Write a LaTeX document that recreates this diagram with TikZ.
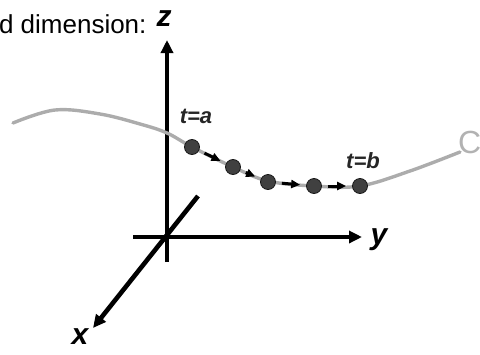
\documentclass[tikz,border=0pt]{standalone}
\usepackage{fontspec}
\setmainfont{Liberation Sans}
\usepackage{tikz}
\usetikzlibrary{arrows.meta}

\begin{document}
\begin{tikzpicture}[
        x=1pt, y=-1pt,
        axis/.style={line width=4.6pt, -{Triangle[length=13pt,width=12pt]}},
        axlabel/.style={font=\fontsize{30}{30}\selectfont\bfseries\itshape},
        curvelbl/.style={font=\fontsize{22}{22}\selectfont\bfseries\itshape, text=black!85},
        pt/.style={circle, fill=black!75, draw=black!90, line width=0.8pt,
                   inner sep=0pt, minimum size=15pt},
        seg/.style={line width=3pt, -{Triangle[length=9pt,width=8pt]},
                    shorten >=6pt, shorten <=6pt}
      ]
        \useasboundingbox (0,0) rectangle (480,354);

        \node[anchor=base east, font=\fontsize{26}{26}\selectfont] (title) at (150,33) {d dimension:};

        % axes
        \coordinate (zbot) at (167,262);
        \coordinate (ztop) at (167,40);
        \coordinate (yleft) at (133,237);
        \coordinate (yright) at (362,237);
        \coordinate (xback) at (198,196);
        \coordinate (xfront) at (93,328);
        \draw[axis] (zbot) -- (ztop);
        \draw[axis] (yleft) -- (yright);
        \draw[axis] (xback) -- (xfront);
        \node[axlabel] (zlbl) at (164,19) {z};
        \node[axlabel] (ylbl) at (379,240) {y};
        \node[axlabel] (xlbl) at (80,337) {x};

        % the curve C
        \draw[gray!65, line width=3.4pt, line cap=round] plot[smooth, tension=0.6] coordinates
            {(13,123) (55,110) (100,114) (140,124) (167,133) (192,147) (233,167)
             (268,181) (314,186) (360,186) (410,171) (460,152)};
        \node[text=gray!60, font=\fontsize{32}{32}\selectfont, inner sep=0pt,
              anchor=west] (clbl) at (458,142) {C};

        \node[pt] (p1) at (192,147) {};
        \node[pt] (p2) at (233,167) {};
        \node[pt] (p3) at (268,182) {};
        \node[pt] (p4) at (314,186) {};
        \node[pt] (p5) at (360,186) {};
        \draw[seg] (p1) -- (p2);
        \draw[seg] (p2) -- (p3);
        \draw[seg] (p3) -- (p4);
        \draw[seg] (p4) -- (p5);

        \node[curvelbl] (ta) at (196,116) {t=a};
        \node[curvelbl] (tb) at (363,161) {t=b};
      \end{tikzpicture}
\end{document}
